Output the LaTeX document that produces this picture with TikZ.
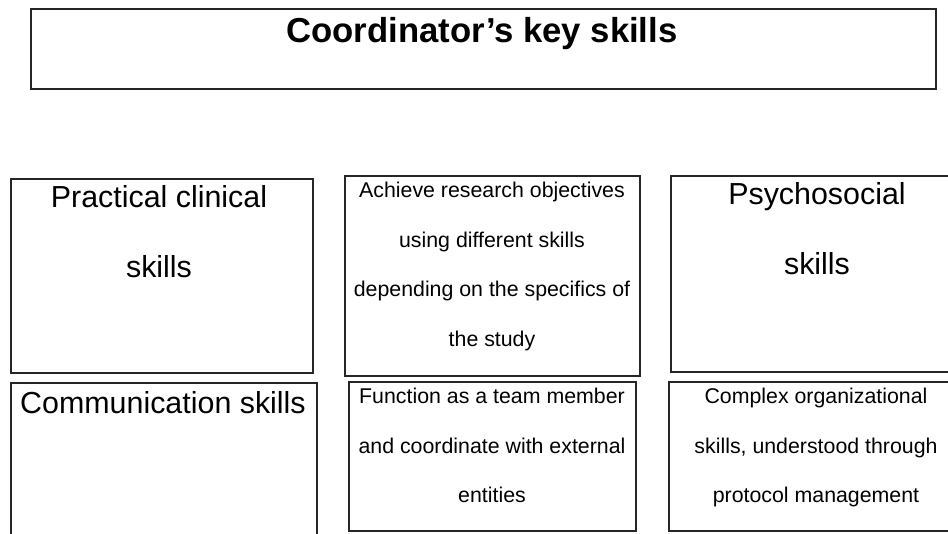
\documentclass[tikz,border=0pt]{standalone}
\usepackage{fontspec}
\setmainfont{Liberation Sans}

\begin{document}
\begin{tikzpicture}[x=0.75pt,y=-0.75pt,
  box/.style={draw=black!85,line width=0.9pt},
  bigtxt/.style={anchor=north,align=center,inner sep=0pt,font=\fontsize{22.8}{52.5}\selectfont},
  smalltxt/.style={anchor=north,align=center,inner sep=0pt,font=\fontsize{16}{37.2}\selectfont}]

\useasboundingbox (0,0) rectangle (948,533);
\clip (0,0) rectangle (948,533);

% Title
\draw[box,line width=1.2pt] (31,9) rectangle (936,89);
\node[anchor=base,inner sep=0pt,font=\fontsize{26}{30}\bfseries] (title) at (482,42) {Coordinator’s key skills};

% Top row
\draw[box] (11,179) rectangle (313,373);
\node[bigtxt] (clinical) at (159,185.5) {Practical clinical\\skills};
\draw[box] (345,176) rectangle (640,376);
\node[smalltxt] (research) at (492,181.7) {Achieve research objectives\\using different skills\\depending on the specifics of\\the study};
\draw[box] (671,176) rectangle (963,372);
\node[bigtxt] (psycho) at (817,182.5) {Psychosocial\\skills};

% Bottom row
\draw[box] (11,383) rectangle (317,560);
\node[anchor=base,inner sep=0pt,font=\fontsize{22.8}{26}\selectfont] (comm) at (163,413) {Communication skills};
\draw[box] (349,382) rectangle (636,531);
\node[smalltxt] (team) at (492,387.7) {Function as a team member\\and coordinate with external\\entities};
\draw[box] (669,382) rectangle (962,531);
\node[smalltxt] (organ) at (816,387.7) {Complex organizational\\skills, understood through\\protocol management};

\end{tikzpicture}
\end{document}
